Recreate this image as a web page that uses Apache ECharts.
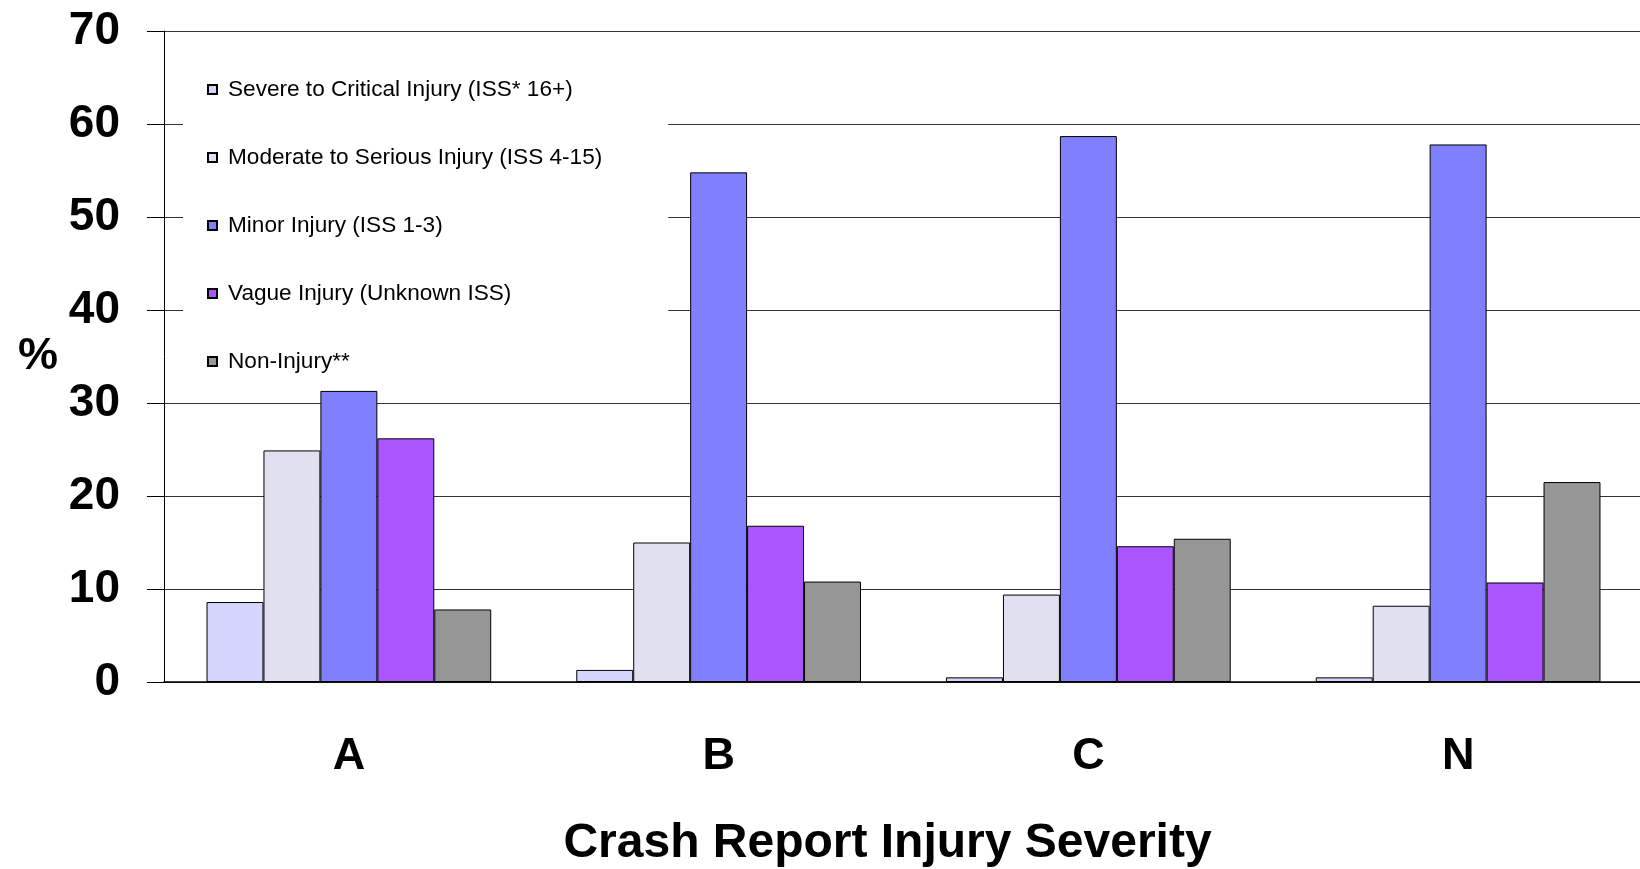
<!DOCTYPE html>
<html>
<head>
<meta charset="utf-8">
<title>Crash Report Injury Severity</title>
<script src="https://cdn.jsdelivr.net/npm/echarts@6/dist/echarts.min.js"></script>
<style>
  html, body { margin: 0; padding: 0; background: #fff; }
  #chart { width: 1640px; height: 869px; }
</style>
</head>
<body>
<div id="chart"></div>
<script>
// data (percent)
const categories = ["A", "B", "C", "N"];
const severeData = [8.6, 1.3, 0.5, 0.5];
const moderateData = [24.9, 15.0, 9.4, 8.2];
const minorData = [31.3, 54.8, 58.7, 57.8];
const vagueData = [26.2, 16.8, 14.6, 10.7];
const nonInjuryData = [7.8, 10.8, 15.4, 21.5];
const yTicks = [0, 10, 20, 30, 40, 50, 60, 70];

const seriesNames = [
  "Severe to Critical Injury (ISS* 16+)",
  "Moderate to Serious Injury (ISS 4-15)",
  "Minor Injury (ISS 1-3)",
  "Vague Injury (Unknown ISS)",
  "Non-Injury**",
];
const seriesData = [severeData, moderateData, minorData, vagueData, nonInjuryData];
const seriesColors = ["#d4d4fc", "#e0e0f0", "#7f7fff", "#aa55ff", "#969696"];

const font = "'Liberation Sans', Arial, sans-serif";

const chart = echarts.init(document.getElementById("chart"));

const option = {
  backgroundColor: "#fff",
  animation: false,
  textStyle: { fontFamily: font },
  grid: {
    left: 164,
    top: 31,
    width: 1479,
    bottom: 187,
    outerBoundsMode: "none", // keep the plot box fixed, names may go near the edge
  },
  // legend sits inside the plot on a white box that hides the grid lines
  legend: {
    orient: "vertical",
    left: 183,
    top: 48,
    padding: [30, 66, 10, 24],
    backgroundColor: "#fff",
    itemWidth: 9,
    itemHeight: 9,
    itemGap: 45,
    icon: "rect",
    data: seriesNames,
    textStyle: {
      fontSize: 22.6,
      color: "#000",
      fontFamily: font,
      padding: [0, 0, 0, 6],
    },
  },
  xAxis: {
    type: "category",
    data: categories,
    name: "Crash Report Injury Severity",
    nameLocation: "middle",
    nameGap: 138,
    nameTextStyle: {
      fontSize: 48,
      fontWeight: "bold",
      color: "#000",
      padding: [0, 32, 0, 0],
    },
    axisLine: { lineStyle: { color: "#000", width: 1.5 } },
    axisTick: { length: 15, lineStyle: { color: "#000" } },
    axisLabel: {
      margin: 52,
      fontSize: 45,
      fontWeight: "bold",
      color: "#000",
    },
  },
  yAxis: {
    type: "value",
    min: 0,
    max: 70,
    interval: 10,
    name: "%",
    nameLocation: "middle",
    nameRotate: 0,
    nameGap: 106,
    nameTextStyle: {
      fontSize: 45,
      fontWeight: "bold",
      color: "#000",
    },
    axisLine: { show: true, lineStyle: { color: "#000", width: 1 } },
    axisTick: { show: true, length: 17, lineStyle: { color: "#000" } },
    axisLabel: {
      margin: 44,
      fontSize: 46,
      fontWeight: "bold",
      color: "#000",
      formatter: (v) => (yTicks.includes(v) ? String(v) : ""),
    },
    splitLine: { lineStyle: { color: "#333", width: 1.2 } },
  },
  series: seriesNames.map((name, i) => ({
    name: name,
    type: "bar",
    data: seriesData[i],
    barGap: "0%",
    barCategoryGap: "23%",
    itemStyle: {
      color: seriesColors[i],
      borderColor: "#000",
      borderWidth: 1,
    },
  })),
};

chart.setOption(option);
</script>
</body>
</html>
